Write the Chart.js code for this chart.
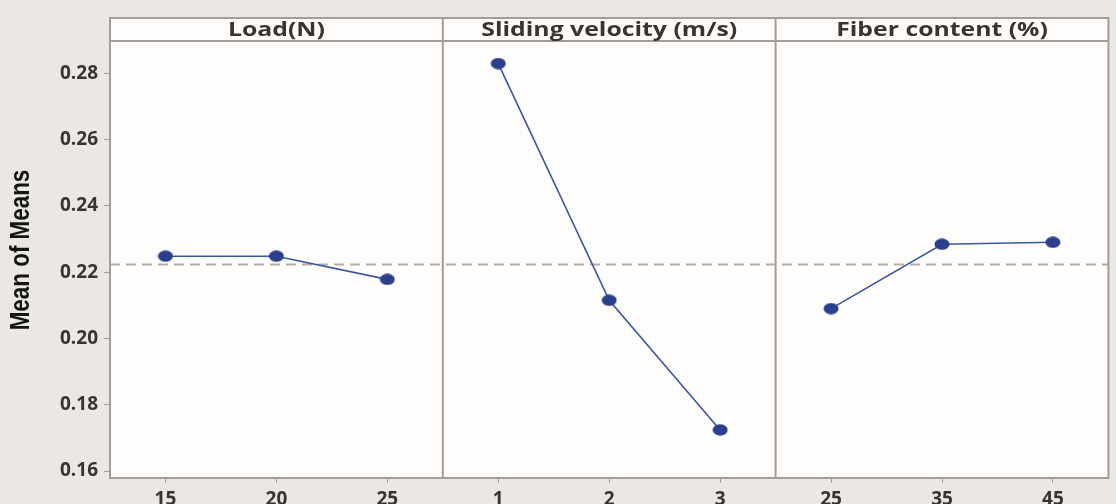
<!DOCTYPE html>
<html>
<head>
<meta charset="utf-8">
<script src="https://cdn.jsdelivr.net/npm/chart.js@4/dist/chart.umd.min.js"></script>
<style>
  html, body { margin: 0; padding: 0; background: #ebe7e3; }
  #wrap { width: 1116px; height: 504px; }
</style>
</head>
<body>
<div id="wrap"><canvas id="c" width="1116" height="504"></canvas></div>
<script>
// factor levels (x tick labels) and panel names
const panelTitles = ['Load(N)', 'Sliding velocity (m/s)', 'Fiber content (%)'];
const loadLevels = ['15', '20', '25'];
const velocityLevels = ['1', '2', '3'];
const fiberLevels = ['25', '35', '45'];

// mean of means for each level
const loadMeans = [0.2248, 0.2248, 0.2178];
const velocityMeans = [0.2829, 0.2115, 0.1724];
const fiberMeans = [0.2090, 0.2284, 0.2290];
const grandMean = 0.2223;

const yTicks = [0.16, 0.18, 0.20, 0.22, 0.24, 0.26, 0.28];
const yTitle = 'Mean of Means';

const xLabels = [...loadLevels, ...velocityLevels, ...fiberLevels];
const empty = [null, null, null];

const lineBlue = '#3b56a6';
const dotBlue = '#2a3f8e';
const frameGray = '#a39d98';
const textDark = '#3a3330';

function series(vals, pos) {
    const out = [];
    for (let p = 0; p < 3; p++) out.push(...(p === pos ? vals : empty));
    return out;
}

// the dots in the original are slightly wide ellipses
const dot = document.createElement('canvas');
dot.width = 16; dot.height = 12;
(function () {
    const g = dot.getContext('2d');
    g.fillStyle = dotBlue;
    g.beginPath();
    g.ellipse(8, 6, 7.5, 5.8, 0, 0, Math.PI * 2);
    g.fill();
})();

// draws panel frame, header strip, dividers, grand mean line and y title
const panelsPlugin = {
    id: 'panels',
    beforeDatasetsDraw(chart) {
        const { ctx, chartArea: a, scales } = chart;
        const x = scales.x, y = scales.y;
        const headTop = 18;
        const edges = [a.left];
        for (let p = 1; p < 3; p++) {
            const i = p * 3;
            edges.push((x.getPixelForValue(i - 1) + x.getPixelForValue(i)) / 2);
        }
        edges.push(a.right);
        ctx.save();
        ctx.fillStyle = '#fefdfc';
        ctx.fillRect(a.left, headTop, a.right - a.left, a.bottom - headTop);
        // grand mean
        const ym = y.getPixelForValue(grandMean);
        ctx.strokeStyle = '#b3aeaa';
        ctx.lineWidth = 2;
        ctx.setLineDash([10, 6]);
        ctx.beginPath();
        ctx.moveTo(a.left, ym);
        ctx.lineTo(a.right, ym);
        ctx.stroke();
        ctx.setLineDash([]);
        // frame
        ctx.strokeStyle = frameGray;
        ctx.lineWidth = 2;
        ctx.strokeRect(a.left, headTop, a.right - a.left, a.bottom - headTop);
        ctx.beginPath();
        ctx.moveTo(a.left, a.top);
        ctx.lineTo(a.right, a.top);
        for (let p = 1; p < 3; p++) {
            ctx.moveTo(edges[p], headTop);
            ctx.lineTo(edges[p], a.bottom);
        }
        ctx.stroke();
        // header titles (source image is stretched sideways)
        ctx.fillStyle = textDark;
        ctx.font = 'bold 20px "Open Sans", sans-serif';
        ctx.textAlign = 'center';
        ctx.textBaseline = 'middle';
        for (let p = 0; p < 3; p++) {
            ctx.save();
            ctx.translate((edges[p] + edges[p + 1]) / 2, (headTop + a.top) / 2 + 1);
            ctx.scale(1.24, 1);
            ctx.fillText(panelTitles[p], 0, 0);
            ctx.restore();
        }
        // y axis title, condensed
        ctx.save();
        ctx.fillStyle = '#141414';
        ctx.font = 'bold 27px "Liberation Sans", Arial, sans-serif';
        ctx.translate(22, 250);
        ctx.rotate(-Math.PI / 2);
        ctx.scale(0.83, 1);
        ctx.fillText(yTitle, 0, 0);
        ctx.restore();
        ctx.restore();
    }
};

const pointStyle = {
    borderColor: lineBlue,
    borderWidth: 1.6,
    pointStyle: dot,
    pointRadius: 6,
    pointHoverRadius: 6,
    spanGaps: false,
    tension: 0
};

new Chart(document.getElementById('c'), {
    type: 'line',
    plugins: [panelsPlugin],
    data: {
        labels: xLabels,
        datasets: [
            { label: panelTitles[0], data: series(loadMeans, 0), ...pointStyle },
            { label: panelTitles[1], data: series(velocityMeans, 1), ...pointStyle },
            { label: panelTitles[2], data: series(fiberMeans, 2), ...pointStyle }
        ]
    },
    options: {
        responsive: false,
        animation: false,
        layout: { padding: { top: 41, right: 7, bottom: 0, left: 0 } },
        plugins: { legend: { display: false }, tooltip: { enabled: false } },
        scales: {
            x: {
                type: 'category',
                offset: true,
                border: { display: false },
                grid: { drawOnChartArea: false, drawTicks: true, tickLength: 5, color: frameGray, offset: false },
                ticks: {
                    color: textDark,
                    padding: 5,
                    maxRotation: 0,
                    autoSkip: false,
                    font: { family: '"Open Sans", sans-serif', size: 19, weight: 'bold' }
                },
                afterFit(scale) { scale.height = 26; }
            },
            y: {
                min: 0.1579,
                max: 0.2897,
                border: { display: false },
                grid: { drawOnChartArea: false, drawTicks: true, tickLength: 6, color: frameGray },
                afterBuildTicks(scale) { scale.ticks = yTicks.map(v => ({ value: v })); },
                ticks: {
                    color: textDark,
                    padding: 6,
                    callback: (v) => Number(v).toFixed(2),
                    font: { family: '"Open Sans", sans-serif', size: 19, weight: 'bold' }
                },
                afterFit(scale) { scale.width = 110; }
            }
        }
    }
});
</script>
</body>
</html>
